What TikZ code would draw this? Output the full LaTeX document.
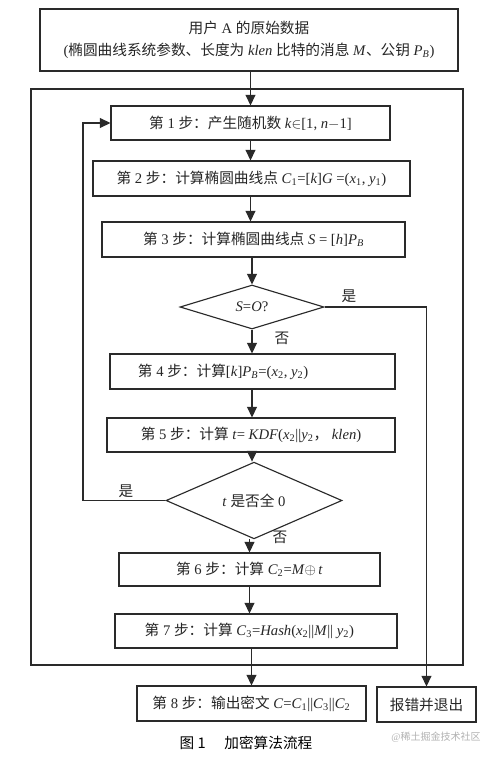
\documentclass[tikz,border=0pt]{standalone}
\usepackage{fontspec}
\setmainfont{Liberation Serif}
\newfontfamily\cjk{Noto Sans CJK SC}
\usetikzlibrary{shapes.geometric,arrows.meta}
\newcommand\CJ[1]{{\cjk #1}}
\newcommand\sbs[1]{\textsubscript{#1}}
\definecolor{lc}{HTML}{2A2A2A}
\definecolor{tc}{HTML}{262626}
\begin{document}
\begin{tikzpicture}[x=0.75pt,y=-0.75pt,
  box/.style={draw=lc, line width=0.85pt, rectangle, inner sep=0pt, text=tc,
    font=\fontsize{11}{12.5}\selectfont},
  dia/.style={box, diamond},
  sz/.style 2 args={minimum width=#1*0.75pt, minimum height=#2*0.75pt},
  arr/.style={draw=lc, line width=0.85pt, -{Triangle[length=8pt,width=7.5pt]}},
  ln/.style={draw=lc, line width=0.85pt},
  lbl/.style={inner sep=0pt, text=tc, font=\fontsize{11}{12.5}\selectfont}]
\useasboundingbox (0,0) rectangle (500,760);
\fill[white] (0,0) rectangle (500,760);
% outer frame
\draw[ln] (31,89) rectangle (463,665);
% nodes
\node[box, sz={418}{62}, align=center] (top) at (249,40)
  {\CJ{用户}~A~\CJ{的原始数据}\\[4pt]
   (\CJ{椭圆曲线系统参数、长度为}~\textit{klen}~\CJ{比特的消息}~\textit{M}\CJ{、公钥}~\textit{P}\sbs{\textit{B}})};
\node[box, sz={279}{34}] (s1) at (250.5,123)
  {\CJ{第}~1~\CJ{步：产生随机数}~\textit{k}$\in$[1,~\textit{n}$-$1]};
\node[box, sz={317}{35}] (s2) at (251.5,178.5)
  {\CJ{第}~2~\CJ{步：计算椭圆曲线点}~\textit{C}\sbs{1}=[\textit{k}]\textit{G}~=(\textit{x}\sbs{1},~\textit{y}\sbs{1})};
\node[box, sz={303}{35}] (s3) at (253.5,239.5)
  {\CJ{第}~3~\CJ{步：计算椭圆曲线点}~\textit{S}~=~[\textit{h}]\textit{P}\sbs{\textit{B}}};
\node[dia, sz={144}{44}] (d1) at (252,307) {\raisebox{-3pt}{\textit{S}=\textit{O}?}};
\node[box, sz={285}{35}] (s4) at (252.5,371.5)
  {\CJ{第}~4~\CJ{步：计算}[\textit{k}]\textit{P}\sbs{\textit{B}}=(\textit{x}\sbs{2},~\textit{y}\sbs{2})\hspace*{44pt}};
\node[box, sz={288}{34}] (s5) at (251,435)
  {\CJ{第}~5~\CJ{步：计算}~\textit{t}=~\textit{KDF}(\textit{x}\sbs{2}||\textit{y}\sbs{2}\CJ{，}~\textit{klen})};
\node[dia, sz={176}{45}] (d2) at (254,500.5) {\raisebox{-3pt}{\textit{t}~\CJ{是否全}~0}};
\node[box, sz={261}{33}] (s6) at (249.5,569.5)
  {\CJ{第}~6~\CJ{步：计算}~\textit{C}\sbs{2}=\textit{M}$\oplus$\,\textit{t}};
\node[box, sz={282}{34}] (s7) at (256,631)
  {\CJ{第}~7~\CJ{步：计算}~\textit{C}\sbs{3}=\textit{Hash}(\textit{x}\sbs{2}||\textit{M}||~\textit{y}\sbs{2})\hspace*{10pt}};
\node[box, sz={229}{35}] (s8) at (251.5,703.5)
  {\CJ{第}~8~\CJ{步：输出密文}~\textit{C}=\textit{C}\sbs{1}||\textit{C}\sbs{3}||\textit{C}\sbs{2}};
\node[box, sz={99}{35}] (err) at (426.5,704.5) {\CJ{报错并退出}};
% labels
\node[lbl] (y1) at (349,296) {\CJ{是}};
\node[lbl] (n1) at (282,338) {\CJ{否}};
\node[lbl] (y2) at (126,491) {\CJ{是}};
\node[lbl] (n2) at (280,537) {\CJ{否}};
\node[lbl, text=black] (cap) at (246,743) {\CJ{图 1\hspace{14pt}加密算法流程}};
\node[inner sep=0pt, text=black!30, font=\fontsize{7.5}{9}\selectfont] (wm) at (436,737) {@\CJ{稀土掘金技术社区}};
% connectors
\coordinate (lp) at (83,500.5);
\draw[arr] (top.south -| s1.north) -- (s1.north);
\draw[arr] (s1.south) -- (s1.south |- s2.north);
\draw[arr] (s2.south -| s1.south) -- (s1.south |- s3.north);
\draw[arr] (s3.south -| d1.north) -- (d1.north);
\draw[arr] (d1.south) -- (d1.south |- s4.north);
\draw[arr] (s4.south -| d1.south) -- (d1.south |- s5.north);
\draw[arr] (s5.south -| d1.south) -- (d1.south |- d2.north);
\draw[arr] (d2.south -| s6.north) -- (s6.north);
\draw[arr] (s6.south) -- (s6.south |- s7.north);
\draw[arr] (s7.south -| s8.north) -- (s8.north);
\draw[arr] (d1.east) -| (err.north);
\draw[arr] (d2.west) -- (lp) |- (s1.west);
\end{tikzpicture}
\end{document}
